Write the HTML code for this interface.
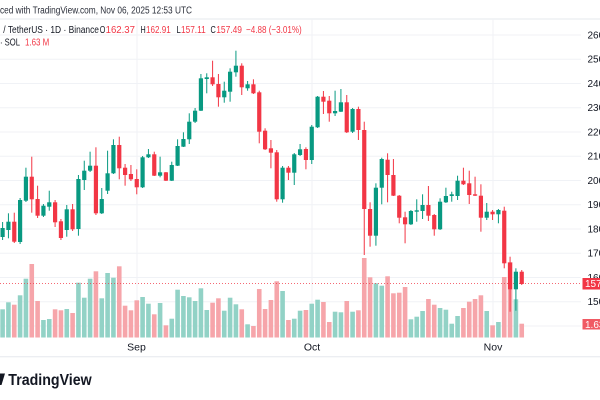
<!DOCTYPE html>
<html>
<head>
<meta charset="utf-8">
<style>
html,body{margin:0;padding:0;background:#fff;}
body{width:600px;height:400px;overflow:hidden;}
svg{display:block;}
text{font-family:"Liberation Sans",Arial,sans-serif;}
</style>
</head>
<body>
<svg id="c" width="600" height="400" viewBox="0 0 600 400" xmlns="http://www.w3.org/2000/svg">
  <rect x="0" y="0" width="600" height="400" fill="#ffffff"/>
  <!-- header -->
  <text x="0" y="13.5" font-size="10" fill="#2a2e39" textLength="192" lengthAdjust="spacingAndGlyphs">ced with TradingView.com, Nov 06, 2025 12:53 UTC</text>
  <line x1="0" y1="19" x2="600" y2="19" stroke="#e6e8ee" stroke-width="1"/>
  <g id="grid"></g>
  <line x1="0" y1="356.7" x2="600" y2="356.7" stroke="#e6e8ee" stroke-width="1"/>
  <g id="vol"></g>
  <line x1="0" y1="283.5" x2="582" y2="283.5" stroke="#f23645" stroke-width="1" stroke-dasharray="1,2" opacity="0.75"/>
  <g id="candles"></g>

  <g font-size="10">
    <text x="3.3" y="33" fill="#131722" textLength="95.7" lengthAdjust="spacingAndGlyphs">/ TetherUS · 1D · Binance</text>
    <text x="99.8" y="33" fill="#131722" textLength="5.6" lengthAdjust="spacingAndGlyphs">O</text>
    <text x="105.6" y="33" fill="#f23645" textLength="29.4" lengthAdjust="spacingAndGlyphs">162.37</text>
    <text x="140.5" y="33" fill="#131722" textLength="5.2" lengthAdjust="spacingAndGlyphs">H</text>
    <text x="146" y="33" fill="#f23645" textLength="24.8" lengthAdjust="spacingAndGlyphs">162.91</text>
    <text x="176.5" y="33" fill="#131722" textLength="4.3" lengthAdjust="spacingAndGlyphs">L</text>
    <text x="181" y="33" fill="#f23645" textLength="24.7" lengthAdjust="spacingAndGlyphs">157.11</text>
    <text x="210.5" y="33" fill="#131722" textLength="5.3" lengthAdjust="spacingAndGlyphs">C</text>
    <text x="216.2" y="33" fill="#f23645" textLength="25.8" lengthAdjust="spacingAndGlyphs">157.49</text>
    <text x="246" y="33" fill="#f23645" textLength="55.7" lengthAdjust="spacingAndGlyphs">−4.88 (−3.01%)</text>
    <text x="0" y="45.5" fill="#131722" textLength="20" lengthAdjust="spacingAndGlyphs">· SOL</text>
    <text x="25" y="45.5" fill="#f23645" textLength="24.3" lengthAdjust="spacingAndGlyphs">1.63 M</text>
  </g>

  <!-- price axis labels -->
  <g font-size="10" fill="#131722">
    <text x="587.5" y="38.5">260</text>
    <text x="587.5" y="62.7">250</text>
    <text x="587.5" y="87">240</text>
    <text x="587.5" y="111.2">230</text>
    <text x="587.5" y="135.5">220</text>
    <text x="587.5" y="159.7">210</text>
    <text x="587.5" y="184">200</text>
    <text x="587.5" y="208.2">190</text>
    <text x="587.5" y="232.5">180</text>
    <text x="587.5" y="256.7">170</text>
    <text x="587.5" y="281">160</text>
    <text x="587.5" y="305.2">150</text>
  </g>
  <rect x="582.5" y="278" width="18" height="11.5" fill="#f23645"/>
  <text x="585" y="287" font-size="10" fill="#ffffff">157.49</text>
  <rect x="582.5" y="319" width="18" height="10.5" fill="#f05a64"/>
  <text x="585" y="328" font-size="10" fill="#ffffff">1.63M</text>

  <!-- time axis labels -->
  <g font-size="10.5" fill="#131722" text-anchor="middle">
    <text x="136.5" y="350.5">Sep</text>
    <text x="312" y="350.5">Oct</text>
    <text x="493" y="350.5">Nov</text>
  </g>

  <!-- logo -->
  <polygon points="0,373.5 5,373.5 1.5,385 0,385" fill="#131722"/>
  <text x="8.3" y="385" font-size="16" font-weight="bold" fill="#131722" textLength="83.4" lengthAdjust="spacingAndGlyphs">TradingView</text>
</svg>
<script>
(function(){
var NS="http://www.w3.org/2000/svg";
function el(tag,attrs,parent){var e=document.createElementNS(NS,tag);for(var k in attrs)e.setAttribute(k,attrs[k]);parent.appendChild(e);return e;}
var grid=document.getElementById('grid');
var levels=[260,250,240,230,220,210,200,190,180,170,160,150,140];
levels.forEach(function(p){var y=35+(260-p)*2.4245;el('line',{x1:0,y1:y,x2:581,y2:y,stroke:'#f0f2f6','stroke-width':1},grid);});
[137,312,493].forEach(function(x){el('line',{x1:x,y1:19,x2:x,y2:338,stroke:'#f0f2f6','stroke-width':1},grid);});

var C=[
[1,228,237,222,240],[1,221.7,230,213.3,238.3],[0,221.7,241.7,212.7,243],[1,200,242,198,244],
[1,176.7,200.7,167.7,202],[0,176.7,199.3,156.7,212.7],[0,199,215.7,185.7,218],[1,205.7,215.7,204,217],
[1,202.3,206.7,190.7,210.7],[0,202.3,222.3,200,227],[0,221.3,238,219,240],[1,209.3,230,205,236.7],
[0,209.3,229.3,204,231],[1,179,229,175,235.7],[1,170.7,180,160.7,190],[1,165.7,170.7,151.7,172],
[0,165.7,213.3,147.3,215],[1,199,213.3,188,214],[1,173.3,190.7,150.7,194],[1,145,173.3,139.3,174],
[0,145,168.3,136.7,179.3],[0,167.7,175,164,185.7],[0,174,179.3,165,181],[0,179,187.3,169.3,194.3],
[1,157.3,187.3,156,188],[1,154.3,157.3,149,158],[0,154.3,175.7,151.7,176],[1,172.3,175.7,156.7,177.3],
[0,172.3,180.7,172,181],[1,165,180.7,161.7,181],[1,146,165.7,139.3,166],[1,139,146.7,132.3,147],
[1,121.7,139.3,113.3,144],[1,110.7,121.7,108,123],[1,78.3,110.7,74,111],[1,77.3,79,73.3,93.3],
[0,77.3,84.3,60.7,86],[0,84,97.3,74,106.7],[1,90.7,97.3,81.7,102.7],[1,71.7,91.7,68.3,101.7],
[1,65.7,72.3,50.7,76.7],[0,65.7,87.3,63.3,95],[1,84.3,88.3,81,90.7],[0,84.3,93.3,79.3,94],
[0,92.3,131.7,90.7,143.3],[0,130.7,149.3,128.3,150],[0,148.3,152.7,140,168.3],[0,152.3,199.3,150,201.7],
[1,167.7,199.3,166,202.7],[0,167.7,172.7,166,180],[1,154.3,172.7,153,185],[1,149.3,155,144,156],
[0,149,160,147.3,169.3],[1,126.7,160,125,164],[1,96.7,127.3,96,128],[0,96.7,101.7,91,114],
[0,100.7,113.3,96,121.7],[1,111,113.3,90.7,116],[1,102.3,111.7,89,112],[0,102.3,132.3,95,133],
[1,109,131.7,108,133],[0,109,130,106.7,140],[0,130,209,121.7,255],[0,209,235.7,202.3,246.7],
[1,187.7,235.7,183.3,245.7],[1,159,187.7,157.7,204.3],[0,159.7,175,153.3,202.3],[0,175,195.7,159,196],
[0,195.7,217.7,195,223.3],[0,217.3,224.3,211.7,243.3],[1,211,224.3,210,225],[1,210.3,211.7,199.3,221.7],
[1,205,211,194.3,219],[0,205,215.7,186,221],[0,215,229.3,214,235.7],[1,201.7,229.3,198.3,230],
[1,196,202.3,187.7,203],[1,194.3,196,191.7,201.7],[1,180.7,196,175.7,200],[0,180.7,184.3,167.7,185],
[0,183.3,195,170.7,204],[0,194.3,195.7,176.7,196],[0,195.7,217.7,184.3,231.7],[1,211.7,217.7,203,220],
[0,211.7,214.3,210,220],[1,210,214.3,209,223.3],[0,210.7,263.3,206.7,268.3],[0,262.7,289.3,256.7,311.7],
[1,271.7,289.3,268.3,310.7],[0,271.7,284,270,285]
];
var V=[309.3,302.3,304.7,295.3,278.7,264,301,320,319,309.3,310.3,309,313,282.7,297.7,278.7,271.3,298.3,273,277.7,
266.3,305.7,310.3,300.3,297,303.7,314.3,303,325.3,318.7,289.7,296,297.3,301,288.3,310,302.7,298.3,310.7,297.7,
304.3,309.3,324.3,326,289,309,300,281.3,291,320,318.7,310.7,310,303.7,299.7,302,322,311.7,312.3,301,
311.7,310.3,258,277.3,283.3,285.7,276.3,293.3,292.7,287,319.3,316.7,311,299,304.7,308,309.7,323.7,316,308,
301.7,299,295.3,311,325.3,322,277,262,299.3,323.7];
var vol=document.getElementById('vol'),cg=document.getElementById('candles');
var base=337.5;
for(var k=0;k<C.length;k++){
  var x=2.6+5.833*k, d=C[k], g=d[0]===1;
  var vc=g?'#92d2c6':'#f6a5aa';
  el('rect',{x:(x-2.3).toFixed(2),y:V[k],width:4.6,height:(base-V[k]).toFixed(2),fill:vc},vol);
  var col=g?'#089981':'#f23645';
  el('rect',{x:(x-0.5).toFixed(2),y:d[3],width:1,height:Math.max(1,d[4]-d[3]).toFixed(2),fill:col},cg);
  el('rect',{x:(x-2.1).toFixed(2),y:d[1],width:4.2,height:Math.max(1,d[2]-d[1]).toFixed(2),fill:col},cg);
}
})();
</script>
</body>
</html>
